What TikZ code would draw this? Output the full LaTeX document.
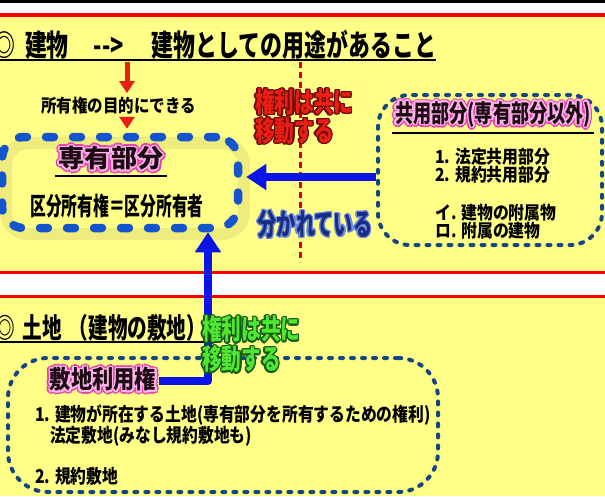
\documentclass[tikz,border=0pt]{standalone}
\usepackage{fontspec}
\setmainfont{Noto Sans CJK JP}
\usepackage{contour}
\usetikzlibrary{arrows.meta,positioning}

\definecolor{paper}{RGB}{255,255,136}
\definecolor{shade}{RGB}{228,224,118}
\definecolor{boxblue}{RGB}{20,85,205}
\definecolor{arrowblue}{RGB}{10,20,230}
\definecolor{navy}{RGB}{20,70,130}
\definecolor{hotpink}{RGB}{225,70,170}
\definecolor{palepink}{RGB}{255,180,235}
\definecolor{arrowred}{RGB}{235,30,20}
\definecolor{darkred}{RGB}{110,10,10}
\definecolor{leaf}{RGB}{80,230,50}
\definecolor{darkleaf}{RGB}{20,90,20}
\definecolor{inkblue}{RGB}{25,45,130}
\definecolor{lightink}{RGB}{110,140,225}
\definecolor{ink}{RGB}{30,10,20}

% narrow bold japanese: stretch, size, skip
\newcommand{\jpf}[3]{\fontspec{Noto Sans CJK JP}[FakeStretch=#1]\fontsize{#2}{#3}\selectfont\bfseries}
% outlined text: outline colour, fill colour, text
\newcommand{\outl}[3]{\contour{#1}{\textcolor{#2}{#3}}}
% pink glow title
\newcommand{\pinkglow}[1]{\rlap{\contourlength{3.2pt}\contour{hotpink}{\textcolor{hotpink}{#1}}}\contourlength{1.6pt}\contour{palepink}{\textcolor{ink}{#1}}}

\tikzset{
  redrule/.style={draw=red, line width=3.5pt},
  sepline/.style={draw=red!85!black, line width=3pt, dash pattern=on 6pt off 4pt},
  uline/.style={draw=black, line width=2pt},
  senyubox/.style={draw=boxblue, line width=8.5pt, dash pattern=on 8pt off 19pt, line cap=round,
    rounded corners=22pt, minimum width=236pt, minimum height=91pt},
  dotbox/.style={draw=navy, line width=4pt, dash pattern=on 3pt off 8pt, line cap=round, rounded corners=32pt},
  halo/.style={draw=shade, line width=12pt, opacity=0.6, rounded corners=22pt},
  bluearrow/.style={draw=arrowblue, line width=7.5pt, line join=round, -{Triangle[width=25pt,length=20pt]}},
  redarrow/.style={draw=arrowred, line width=5pt, -{Triangle[width=15pt,length=12pt]}},
  heading/.style={inner sep=0pt, anchor=base west, font=\jpf{0.73}{30}{33}},
  landhead/.style={inner sep=0pt, anchor=base west, font=\jpf{0.7}{28}{31}},
  body/.style={inner sep=1pt, font=\jpf{0.86}{18}{20}},
  kubun/.style={inner sep=1pt, font=\jpf{0.63}{25}{28}},
  ptitle/.style={inner sep=3pt, font=\jpf{1.05}{25}{28}},
  ktitle/.style={inner sep=3pt, font=\jpf{0.74}{24.5}{27}},
  list/.style={inner sep=0pt, anchor=west, align=left, font=\jpf{0.88}{18}{18}},
  biglist/.style={inner sep=0pt, anchor=west, align=left, font=\jpf{0.83}{19}{20}},
  shout/.style={inner sep=0pt, anchor=west, align=left, font=\jpf{0.7}{28}{27}\contourlength{1.3pt}},
  split/.style={inner sep=0pt, font=\jpf{0.64}{30}{33}\contourlength{1.2pt}}
}

\begin{document}
\begin{tikzpicture}[x=1pt,y=-1pt]
  \useasboundingbox (0,0) rectangle (605,496);
  % background bands
  \fill[white] (0,0) rectangle (605,496);
  \fill[black] (0,0) rectangle (605,2.5);
  \fill[paper] (0,16.5) rectangle (605,271);
  \fill[paper] (0,298) rectangle (605,496);
  \draw[redrule] (0,15) -- (605,15);
  \draw[redrule] (0,272.5) -- (605,272.5);
  \draw[redrule] (0,296.5) -- (605,296.5);
  \draw[sepline] (300,62) -- (300,262);

  % boxes
  \draw[halo] (6,143) rectangle (244,234);
  \node[senyubox] (senyu) at (120,182.5) {};
  \node[dotbox, minimum width=224pt, minimum height=150pt] (kyoyo) at (490,170) {};
  \node[dotbox, minimum width=430pt, minimum height=134pt, rounded corners=40pt] (shikichi) at (223,425) {};

  % building
  \node[heading] (bldg) at (-7,56) {◎\hspace{10pt}建物\hspace{25pt}-{}->\hspace{28pt}建物としての用途があること};
  \draw[uline] ([yshift=-1pt]bldg.south west) -- ([yshift=-1pt]bldg.south east);
  \node[body] (mokuteki) at (118.5,106) {所有権の目的にできる};
  \coordinate (mk) at ([xshift=8.5pt]mokuteki.north);
  \draw[redarrow, shorten <=3pt, shorten >=3pt] (mk |- bldg.south) -- (mk);
  \draw[redarrow, shorten <=3pt, shorten >=4pt] (mk |- mokuteki.south) -- (mk |- senyu.north);

  \node[ptitle] (senyutitle) at (111,160) {\pinkglow{専有部分}};
  \draw[uline] ([yshift=1pt]senyutitle.south west) -- ([yshift=1pt]senyutitle.south east);
  \node[kubun] (owner) at (117,206) {区分所有権＝区分所有者};

  \node[ktitle] (kyoyotitle) at (493,116) {\pinkglow{共用部分(専有部分以外)}};
  \draw[uline] ([yshift=1pt]kyoyotitle.south west) -- ([yshift=1pt]kyoyotitle.south east);
  \node[list] (kyoyolist) at (435,194) {1. 法定共用部分\\2. 規約共用部分\\[20pt]イ. 建物の附属物\\ロ. 附属の建物};

  \coordinate (ka) at ([yshift=-7pt]kyoyo.west);
  \draw[bluearrow, shorten >=4pt] (ka) -- (ka -| senyu.east);

  % land
  \node[landhead] (land) at (-5,338) {◎\hspace{8pt}土地\hspace{7pt}（建物の敷地）};
  \draw[uline] ([yshift=-1pt]land.south west) -- ([yshift=-1pt]land.south east);

  \node[ptitle, font=\jpf{0.85}{25}{28}] (shikititle) at (103,381) {\pinkglow{敷地利用権}};
  \node[biglist] (shikilist) at (35,445) {1. 建物が所在する土地(専有部分を所有するための権利)\\\hspace*{15pt}法定敷地(みなし規約敷地も)\\[20pt]2. 規約敷地};

  \coordinate (bend) at (208,381);
  \draw[bluearrow] (shikititle.east) -- (bend) -- (bend |- senyu.south);

  % outlined remarks
  \node[shout] (kenri) at (255,117) {\outl{darkred}{arrowred}{権利は共に}\\\outl{darkred}{arrowred}{移動する}};
  \node[split] (bunkare) at (315,225) {\outl{lightink}{inkblue}{分かれている}};
  \node[shout, font=\jpf{0.7}{28}{30}\contourlength{1.3pt}] (kenri2) at (202,345) {\outl{darkleaf}{leaf}{権利は共に}\\\outl{darkleaf}{leaf}{移動する}};
\end{tikzpicture}
\end{document}
